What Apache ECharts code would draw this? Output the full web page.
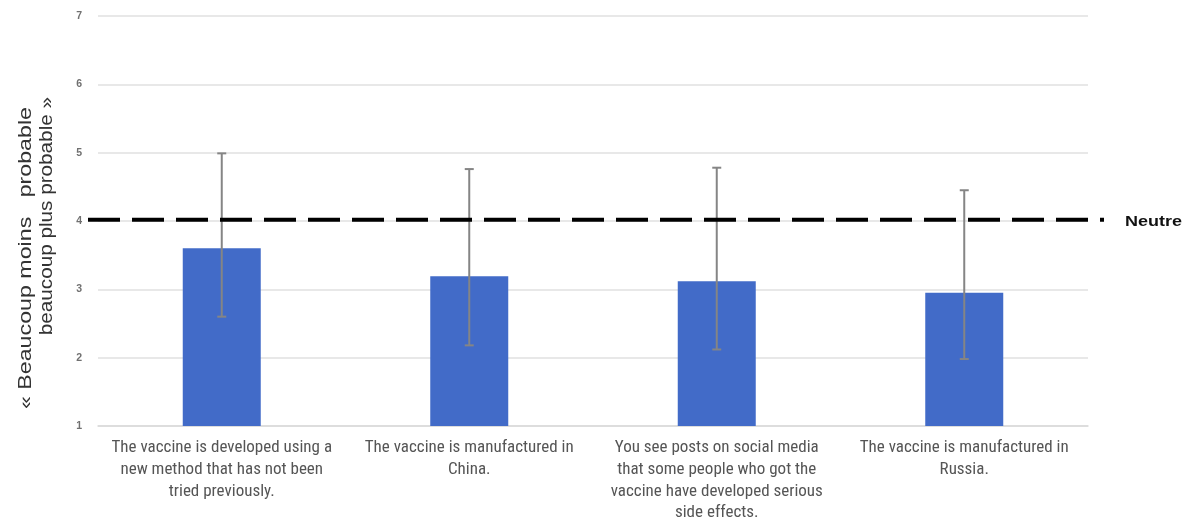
<!DOCTYPE html>
<html>
<head>
<meta charset="utf-8">
<script src="https://cdn.jsdelivr.net/npm/echarts@6/dist/echarts.min.js"></script>
<style>
  html, body { margin: 0; padding: 0; background: #ffffff; }
  #chart { width: 1187px; height: 519px; }
</style>
</head>
<body>
<div id="chart"></div>
<script>
// Scenario labels (line breaks as wrapped under each bar)
const categories = [
  'The vaccine is developed using a\nnew method that has not been\ntried previously.',
  'The vaccine is manufactured in\nChina.',
  'You see posts on social media\nthat some people who got the\nvaccine have developed serious\nside effects.',
  'The vaccine is manufactured in\nRussia.'
];
// Mean likelihood rating (1-7 scale)
const means = [3.60, 3.19, 3.12, 2.95];
// Error bar ends
const upper = [4.99, 4.76, 4.78, 4.45];
const lower = [2.60, 2.18, 2.12, 1.98];
// Neutral reference level
const neutralLevel = 4.02;
const neutralLabel = 'Neutre';
const yTitleLines = ['« Beaucoup moins   probable', 'beaucoup plus probable »'];
const yTicks = [1, 2, 3, 4, 5, 6, 7];

const chart = echarts.init(document.getElementById('chart'));

const option = {
  animation: false,
  grid: { left: 98, right: 99, top: 16, bottom: 93, outerBoundsMode: 'none', containLabel: false },
  xAxis: {
    type: 'category',
    data: categories,
    axisLine: { show: true, lineStyle: { color: '#d9d9d9', width: 1.5 } },
    axisTick: { show: false },
    axisLabel: {
      interval: 0,
      margin: 11,
      color: '#555555',
      fontFamily: '"Liberation Sans Narrow", "Roboto Condensed", "Liberation Sans", sans-serif',
      fontSize: 17,
      lineHeight: 21.7
    }
  },
  yAxis: {
    type: 'value',
    min: yTicks[0],
    max: yTicks[yTicks.length - 1],
    interval: 1,
    axisLine: { show: false },
    axisTick: { show: false },
    splitLine: { lineStyle: { color: '#e0e0e0', width: 1.5 } },
    axisLabel: {
      margin: 16,
      color: '#707070',
      fontWeight: 'bold',
      fontSize: 10.5,
      fontFamily: '"Liberation Sans", sans-serif'
    }
  },
  series: [
    {
      type: 'bar',
      data: means,
      barWidth: 78,
      itemStyle: { color: '#426bc8' },
      z: 2
    },
    {
      type: 'custom',
      z: 3,
      data: means.map((m, i) => [i, lower[i], upper[i]]),
      renderItem: function (params, api) {
        const i = api.value(0);
        const lo = api.coord([i, api.value(1)]);
        const hi = api.coord([i, api.value(2)]);
        const cap = 4.5;
        const style = { stroke: '#858585', lineWidth: 2 };
        return {
          type: 'group',
          children: [
            { type: 'line', shape: { x1: hi[0], y1: hi[1], x2: lo[0], y2: lo[1] }, style: style },
            { type: 'line', shape: { x1: hi[0] - cap, y1: hi[1], x2: hi[0] + cap, y2: hi[1] }, style: style },
            { type: 'line', shape: { x1: lo[0] - cap, y1: lo[1], x2: lo[0] + cap, y2: lo[1] }, style: style }
          ]
        };
      }
    }
  ]
};
chart.setOption(option);

// Neutral dashed line, the label at its right, and the rotated y-axis title
const yNeutral = chart.convertToPixel({ yAxisIndex: 0 }, neutralLevel);
const x0 = 98 - 10;
const x1 = 1187 - 99 + 16;
chart.setOption({
  graphic: [
    {
      type: 'line',
      z: 10,
      shape: { x1: x0, y1: yNeutral, x2: x1, y2: yNeutral },
      style: { stroke: '#000000', lineWidth: 4, lineDash: [32, 12] }
    },
    {
      type: 'text',
      x: 1125, y: yNeutral + 2,
      scaleX: 1.2,
      style: {
        text: neutralLabel,
        fill: '#111111',
        font: 'bold 15px "Liberation Sans", Arial, sans-serif',
        textAlign: 'left', textVerticalAlign: 'middle'
      }
    },
    {
      type: 'text',
      x: 26, y: 107,
      rotation: Math.PI / 2,
      scaleX: 1.29,
      style: {
        text: yTitleLines[0],
        fill: '#333333',
        font: '18px "Liberation Sans", Arial, sans-serif',
        textAlign: 'right', textVerticalAlign: 'middle'
      }
    },
    {
      type: 'text',
      x: 47, y: 97,
      rotation: Math.PI / 2,
      scaleX: 1.15,
      style: {
        text: yTitleLines[1],
        fill: '#333333',
        font: '18px "Liberation Sans", Arial, sans-serif',
        textAlign: 'right', textVerticalAlign: 'middle'
      }
    }
  ]
});
</script>
</body>
</html>
